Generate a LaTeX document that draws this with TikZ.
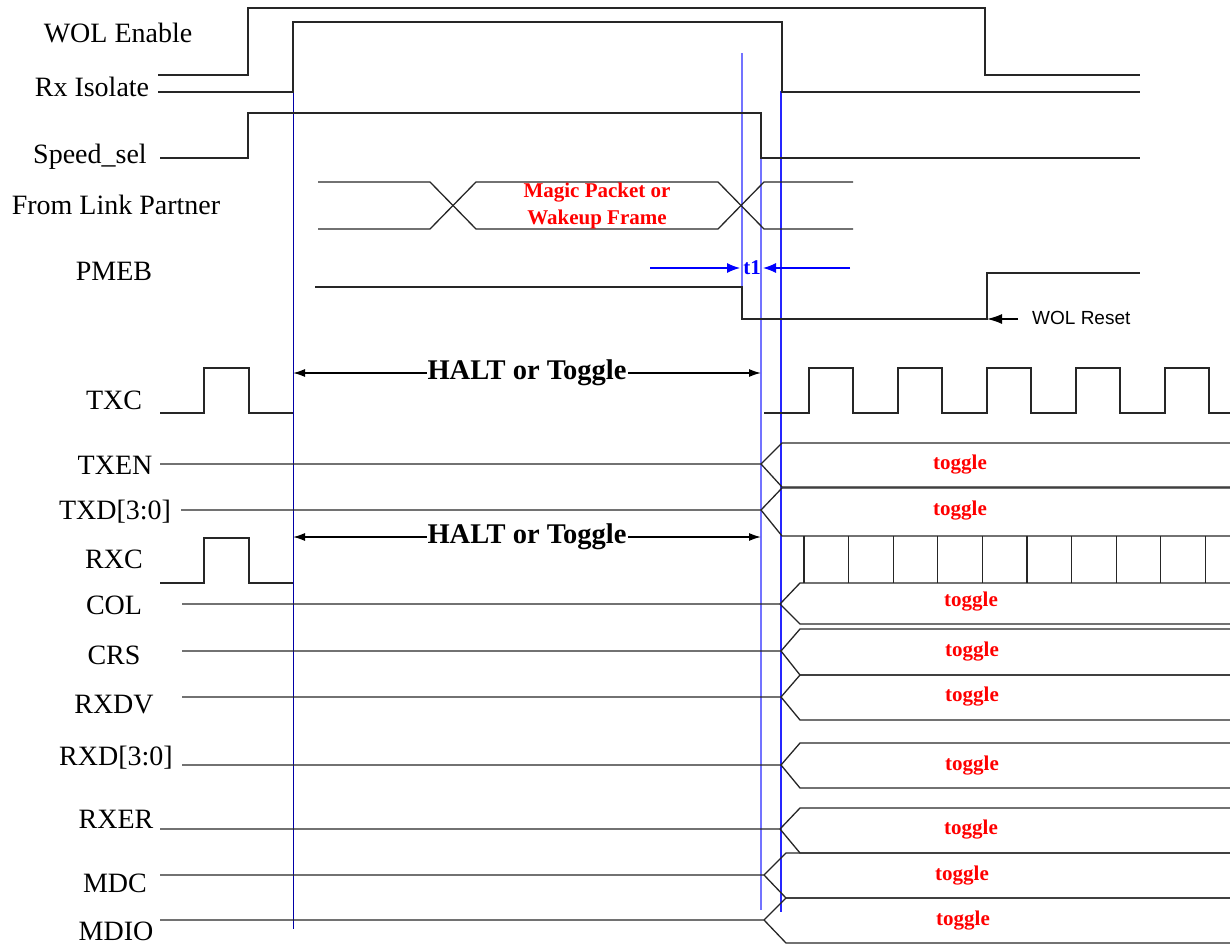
\documentclass[tikz,border=0pt]{standalone}
\usepackage{fontspec}
\setmainfont{Liberation Serif}
\newfontfamily\arialfont{Liberation Sans}
\usetikzlibrary{arrows.meta}

\tikzset{
  wave/.style={black!85,line width=1.3pt},
  sig/.style={anchor=base,inner sep=0pt,font=\fontsize{28}{30}\selectfont},
  tog/.style={inner sep=0pt,text=red,font=\bfseries\fontsize{21}{24}\selectfont},
  halt/.style={arrows={Latex[length=12pt,width=8pt]-Latex[length=12pt,width=8pt]},black,line width=1.5pt},
  tmark/.style={arrows={-Latex[length=13pt,width=10pt]},blue,line width=1.2pt}
}

%总线分叉: #1起点x #2分叉x #3电平y #4分叉终点x #5上沿y #6下沿y
\newcommand{\togline}[6]{%
  \draw[wave] (#1,#3) -- (#2,#3) -- (#4,#5) -- (1230,#5);
  \draw[wave] (#2,#3) -- (#4,#6) -- (1230,#6);
}

\begin{document}
\begin{tikzpicture}[x=1pt,y=-1pt]
\useasboundingbox (0,0) rectangle (1230,944);

%左边的信号名
\node[sig] (lwol) at (118,43) {WOL Enable};
\node[sig] (lrxi) at (92,97) {Rx Isolate};
\node[sig] (lspd) at (90,164) {Speed\_sel};
\node[sig] (llnk) at (116,214) {From Link Partner};
\node[sig] (lpme) at (114,280) {PMEB};
\node[sig] (ltxc) at (114,409) {TXC};
\node[sig] (ltxen) at (115,474) {TXEN};
\node[sig] (ltxd) at (115,519) {TXD[3:0]};
\node[sig] (lrxc) at (114,568) {RXC};
\node[sig] (lcol) at (114,614) {COL};
\node[sig] (lcrs) at (114,664) {CRS};
\node[sig] (lrxdv) at (114,713) {RXDV};
\node[sig] (lrxd) at (116,765) {RXD[3:0]};
\node[sig] (lrxer) at (116,828) {RXER};
\node[sig] (lmdc) at (115,892) {MDC};
\node[sig] (lmdio) at (116,940) {MDIO};

%蓝色的时间标线
\draw[blue!65!black,line width=0.9pt] (293,92) -- (293,929);
\draw[blue!55,line width=1.2pt] (742,53) -- (742,287);
\draw[blue!55,line width=1.2pt] (761,158) -- (761,910);
\draw[blue!85,line width=1.2pt] (781,91) -- (781,912);

%WOL Enable, Rx Isolate, Speed_sel
\draw[wave] (158,75) -- (248,75) -- (248,8) -- (985,8) -- (985,75) -- (1140,75);
\draw[wave] (158,92) -- (293,92) -- (293,22) -- (782,22) -- (782,92) -- (1140,92);
\draw[wave] (160,158) -- (248,158) -- (248,113) -- (761,113) -- (761,158) -- (1140,158);

%From Link Partner 的数据帧
\draw[wave] (318,182) -- (430,182) -- (476,229) -- (718,229) -- (764,182) -- (853,182);
\draw[wave] (318,229) -- (430,229) -- (476,182) -- (718,182) -- (764,229) -- (853,229);
\node[tog,align=center,font=\bfseries\fontsize{21}{27}\selectfont] (magic) at (597,206) {Magic Packet or\\Wakeup Frame};

%PMEB 和 WOL Reset
\draw[wave] (315,287) -- (742,287) -- (742,319) -- (987,319) -- (987,273) -- (1140,273);
\coordinate (rst) at (987,319);
\node[anchor=base west,inner sep=0pt,font=\arialfont\fontsize{19}{22}\selectfont] (lrst) at (1032,324) {WOL Reset};
\draw[arrows={-Latex[length=15pt,width=10pt]},black,line width=1.5pt] (1018,319) -- (rst);

%t1
\node[inner sep=0pt,text=blue,font=\bfseries\fontsize{21}{24}\selectfont] (t1) at (752,268) {t1};
\draw[tmark] (650,268) -- (740,268);
\draw[tmark] (850,268) -- (763,268);

%TXC
\draw[wave] (160,413) -- (204,413) -- (204,368) -- (249,368) -- (249,413) -- (293,413);
\draw[wave] (764,413) \foreach \k in {0,...,4}{ -- (809+89*\k,413) -- (809+89*\k,368) -- (853+89*\k,368) -- (853+89*\k,413)} -- (1230,413);

%HALT or Toggle
\coordinate (h1a) at (293,373);
\coordinate (h1b) at (761,373);
\draw[halt] (h1a) -- node[fill=white,inner sep=1pt,font=\bfseries\fontsize{28.5}{30}\selectfont] (halt1) {HALT or Toggle} (h1b);
\coordinate (h2a) at (293,537);
\coordinate (h2b) at (761,537);
\draw[halt] (h2a) -- node[fill=white,inner sep=1pt,font=\bfseries\fontsize{28.5}{30}\selectfont] (halt2) {HALT or Toggle} (h2b);

%RXC
\draw[wave] (160,583) -- (204,583) -- (204,538) -- (249,538) -- (249,583) -- (293,583);
\foreach \k in {0,...,9}
  \draw[wave] (804+44.6*\k,536) -- (804+44.6*\k,583);

%各个 toggle 信号
\togline{160}{761}{464}{782}{443}{487}
\togline{181}{761}{510}{782}{488}{536}
\togline{182}{780}{604}{800}{583}{624}
\togline{182}{781}{651}{800}{629}{675}
\togline{182}{781}{697}{800}{675}{720}
\togline{182}{781}{765}{800}{743}{788}
\togline{160}{780}{829}{800}{808}{853}
\togline{160}{764}{875}{786}{853}{898}
\togline{160}{764}{920}{786}{898}{943}

\node[tog] (ttxen) at (960,465) {toggle};
\node[tog] (ttxd) at (960,511) {toggle};
\node[tog] (tcol) at (971,602) {toggle};
\node[tog] (tcrs) at (972,652) {toggle};
\node[tog] (trxdv) at (972,697) {toggle};
\node[tog] (trxd) at (972,766) {toggle};
\node[tog] (trxer) at (971,830) {toggle};
\node[tog] (tmdc) at (962,876) {toggle};
\node[tog] (tmdio) at (963,921) {toggle};

\end{tikzpicture}
\end{document}
